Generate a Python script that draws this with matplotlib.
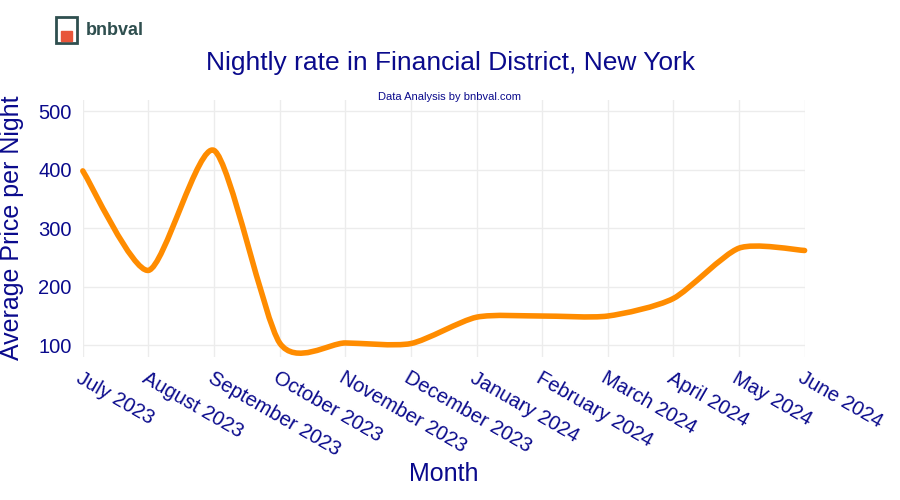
import numpy as np
import matplotlib.pyplot as plt
from matplotlib.path import Path
from matplotlib.patches import PathPatch, Rectangle

months = ["July 2023", "August 2023", "September 2023", "October 2023", "November 2023",
          "December 2023", "January 2024", "February 2024", "March 2024", "April 2024",
          "May 2024", "June 2024"]
prices = [398, 228, 433, 104, 104, 103, 148, 150, 150, 180, 266, 262]

navy = "#0a0a8c"
plt.rcParams["font.family"] = "Liberation Sans"

fig = plt.figure(figsize=(9, 5), dpi=100)
ax = fig.add_axes([0.092, 0.286, 0.802, 0.515])

# smooth curve like plotly's spline (Catmull-Rom via cubic Bezier segments)
x = np.arange(len(prices), dtype=float)
y = np.array(prices, dtype=float)
t = 0.12
verts = [(x[0], y[0])]
codes = [Path.MOVETO]
for i in range(len(x) - 1):
    x0, y0 = (x[i - 1], y[i - 1]) if i > 0 else (x[i], y[i])
    x3, y3 = (x[i + 2], y[i + 2]) if i + 2 < len(x) else (x[i + 1], y[i + 1])
    c1 = (x[i] + (x[i + 1] - x0) * t, y[i] + (y[i + 1] - y0) * t)
    c2 = (x[i + 1] - (x3 - x[i]) * t, y[i + 1] - (y3 - y[i]) * t)
    verts += [c1, c2, (x[i + 1], y[i + 1])]
    codes += [Path.CURVE4] * 3
ax.add_patch(PathPatch(Path(verts, codes), fill=False, edgecolor="#ff8c00", lw=4,
                       capstyle="round", joinstyle="round", clip_on=False))

ax.set_xlim(0, 11)
ax.set_ylim(80, 520)
ax.set_yticks([100, 200, 300, 400, 500])
ax.set_xticks(x)
ax.set_xticklabels(months, rotation=-30, ha="left", va="top", rotation_mode="anchor")
ax.tick_params(colors=navy, labelsize=14.5, length=0, pad=8)
ax.grid(color="#ececec", lw=1)
ax.set_axisbelow(True)
for s in ax.spines.values():
    s.set_visible(False)
ax.set_xlabel("Month", fontsize=18, color=navy, labelpad=2)
ax.set_ylabel("Average Price per Night", fontsize=18, color=navy, labelpad=10)

fig.text(0.5, 0.86, "Nightly rate in Financial District, New York", ha="center",
         fontsize=19, color=navy)
fig.text(0.5, 0.8, "Data Analysis by bnbval.com", ha="center", fontsize=8, color=navy)

# logo
fig.patches.append(Rectangle((0.062, 0.915), 0.024, 0.05, transform=fig.transFigure,
                             fill=False, edgecolor="#2f4f4f", lw=2))
fig.patches.append(Rectangle((0.068, 0.918), 0.012, 0.02, transform=fig.transFigure,
                             color="#e8553a"))
fig.text(0.095, 0.93, "bnbval", fontsize=13, fontweight="bold", color="#2f4f4f")

fig.savefig("out.png")
